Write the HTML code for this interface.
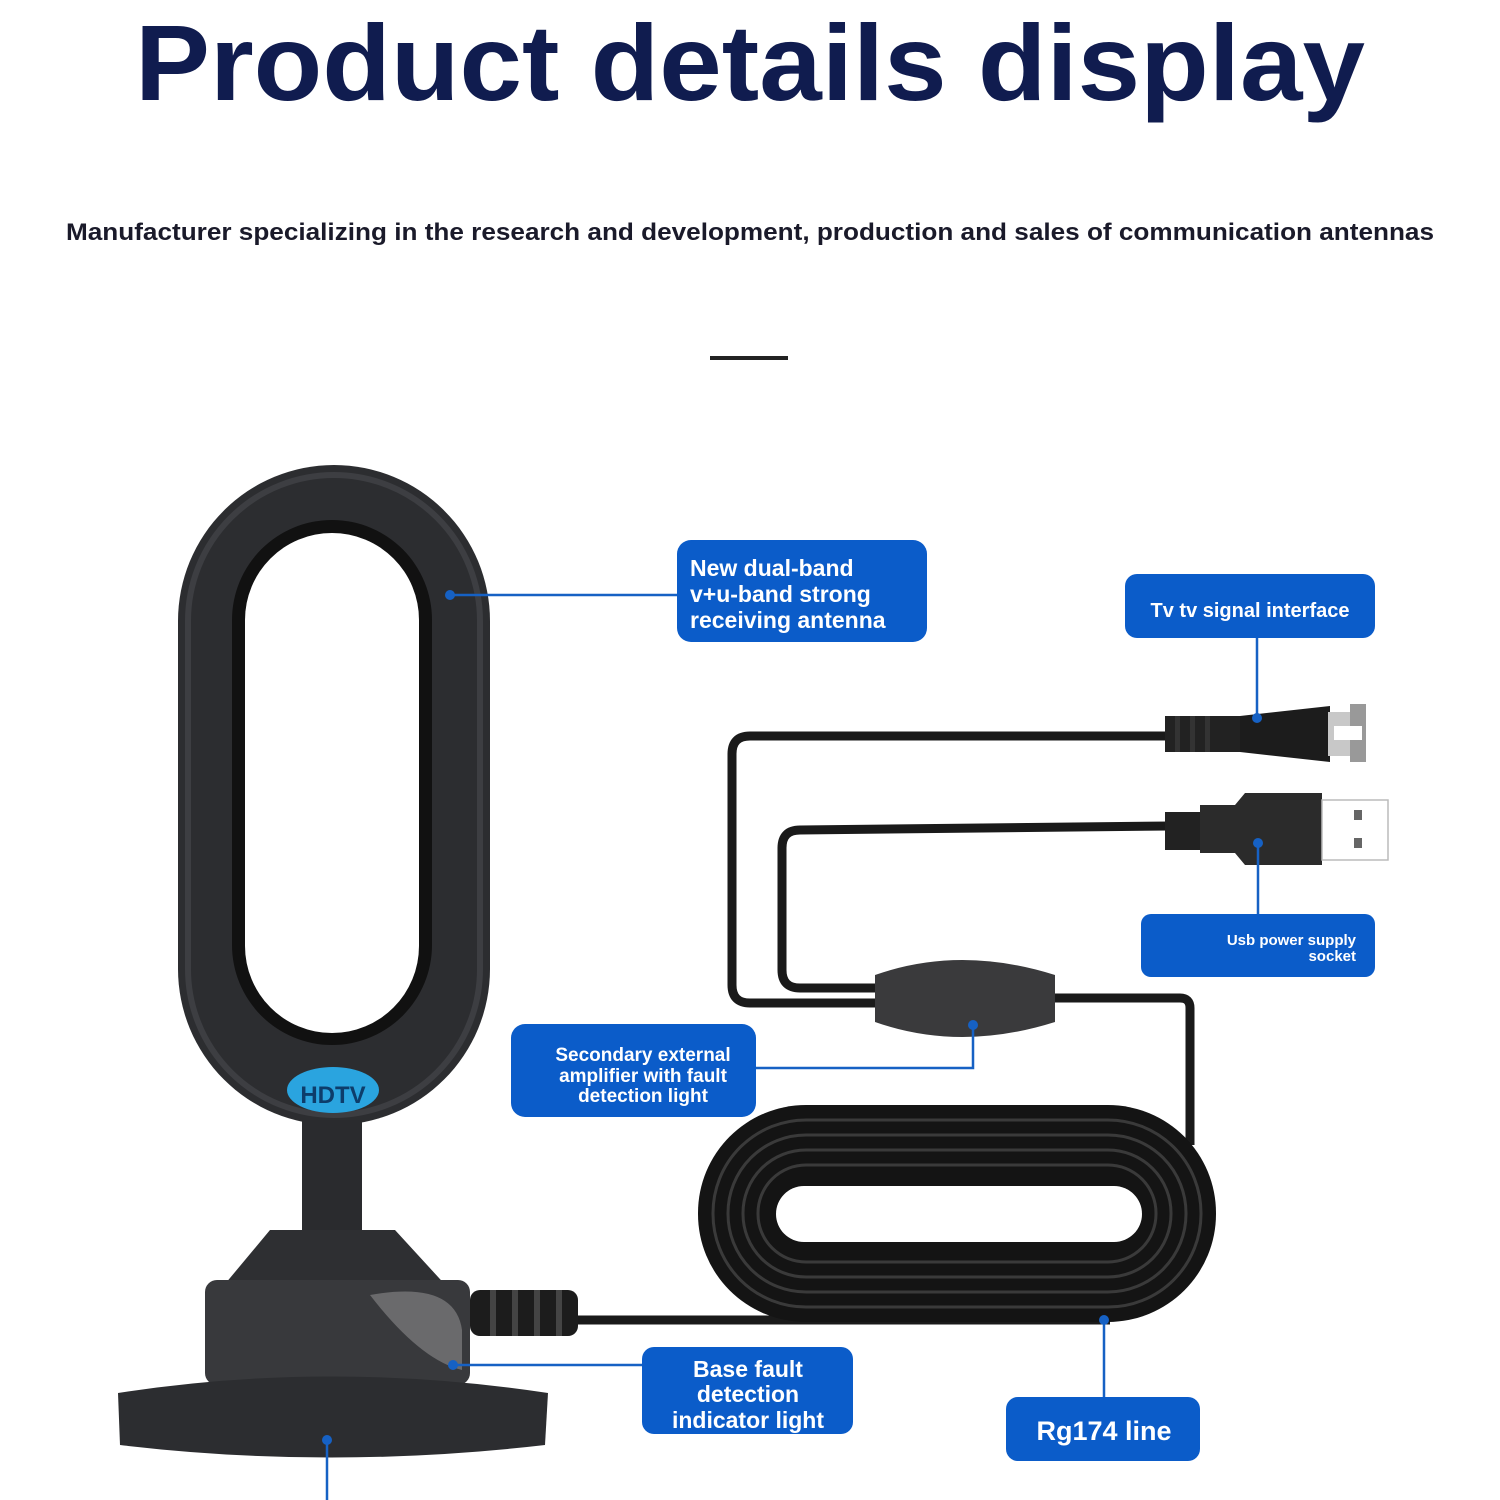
<!DOCTYPE html>
<html><head><meta charset="utf-8"><style>
html,body{margin:0;padding:0;background:#fff;}
svg{display:block;}
text{font-family:"Liberation Sans",sans-serif;font-weight:bold;}
</style></head><body>
<svg width="1500" height="1500" viewBox="0 0 1500 1500" xmlns="http://www.w3.org/2000/svg">
<rect width="1500" height="1500" fill="#fff"/>
<text x="750" y="100" text-anchor="middle" font-size="108" fill="#101c4f" textLength="1230" lengthAdjust="spacingAndGlyphs">Product details display</text>
<text x="750" y="240" text-anchor="middle" font-size="24" fill="#1a1a2a" textLength="1368" lengthAdjust="spacingAndGlyphs">Manufacturer specializing in the research and development, production and sales of communication antennas</text>
<rect x="710" y="356" width="78" height="4" fill="#222"/>

<!-- cables -->
<g fill="none" stroke="#1a1a1a" stroke-width="9" stroke-linejoin="round">
<path d="M1170 736 L750 736 Q732 736 732 754 L732 985 Q732 1003 750 1003 L880 1003"/>
<path d="M1170 826 L800 830 Q782 830 782 848 L782 970 Q782 988 800 988 L880 988"/>
<path d="M1050 998 L1180 998 Q1190 998 1190 1008 L1190 1145"/>
<path d="M575 1320 L1110 1320"/>
</g>
<!-- amplifier -->
<path d="M875 975 Q960 945 1055 975 L1055 1022 Q960 1052 875 1022 Z" fill="#3a3a3c"/>
<!-- coil -->
<rect x="698" y="1105" width="518" height="217" rx="108" fill="#141414"/>
<g fill="none" stroke="#3a3a3a" stroke-width="3">
<rect x="713" y="1120" width="488" height="187" rx="93"/>
<rect x="728" y="1135" width="458" height="157" rx="78"/>
<rect x="743" y="1150" width="428" height="127" rx="63"/>
<rect x="758" y="1165" width="398" height="97" rx="48"/>
</g>
<rect x="776" y="1186" width="366" height="56" rx="28" fill="#fff"/>

<!-- coax connector -->
<rect x="1165" y="716" width="90" height="36" fill="#222"/>
<path d="M1240 716 L1330 706 L1330 762 L1240 752 Z" fill="#1c1c1c"/>
<g fill="#333"><rect x="1175" y="716" width="5" height="36"/><rect x="1190" y="716" width="5" height="36"/><rect x="1205" y="716" width="5" height="36"/></g>
<rect x="1328" y="712" width="30" height="44" fill="#c8c8c8"/>
<rect x="1350" y="704" width="16" height="58" fill="#999"/>
<rect x="1334" y="726" width="28" height="14" fill="#fff"/>
<!-- usb -->
<rect x="1165" y="812" width="40" height="38" fill="#222"/>
<path d="M1200 805 L1235 805 L1245 793 L1322 793 L1322 865 L1245 865 L1235 853 L1200 853 Z" fill="#2b2b2b"/>
<rect x="1322" y="800" width="66" height="60" fill="#fff" stroke="#bbb" stroke-width="1.5"/>
<rect x="1354" y="810" width="8" height="10" fill="#666"/><rect x="1354" y="838" width="8" height="10" fill="#666"/>

<!-- antenna -->
<rect x="178" y="465" width="312" height="660" rx="156" fill="#2c2d30"/>
<rect x="188" y="475" width="292" height="640" rx="146" fill="none" stroke="#3d3e42" stroke-width="6"/>
<rect x="232" y="520" width="200" height="525" rx="100" fill="#111"/>
<rect x="245" y="533" width="174" height="500" rx="87" fill="#fff"/>
<ellipse cx="333" cy="1090" rx="46" ry="23" fill="#2aa4df"/>
<text x="333" y="1103" text-anchor="middle" font-size="24" fill="#0d3d6b">HDTV</text>
<rect x="302" y="1120" width="60" height="110" fill="#2a2b2e"/>
<path d="M270 1230 L395 1230 L450 1290 L220 1290 Z" fill="#2e2f32"/>
<rect x="205" y="1280" width="265" height="105" rx="12" fill="#38393c"/>
<path d="M370 1295 Q455 1280 462 1330 L462 1370 Q420 1360 370 1295 Z" fill="#6a6a6c"/>
<rect x="470" y="1290" width="108" height="46" rx="10" fill="#1c1c1c"/>
<g fill="#444"><rect x="490" y="1290" width="6" height="46"/><rect x="512" y="1290" width="6" height="46"/><rect x="534" y="1290" width="6" height="46"/><rect x="556" y="1290" width="6" height="46"/></g>
<path d="M118 1393 Q330 1360 548 1393 L545 1445 Q330 1470 120 1445 Z" fill="#2c2d30"/>

<!-- leader lines -->
<g stroke="#1661c4" stroke-width="2.5" fill="none">
<path d="M450 595 L677 595"/>
<path d="M1257 638 L1257 718"/>
<path d="M1258 843 L1258 914"/>
<path d="M756 1068 L973 1068 L973 1025"/>
<path d="M453 1365 L642 1365"/>
<path d="M1104 1320 L1104 1397"/>
<path d="M327 1440 L327 1500"/>
</g>
<g fill="#1661c4">
<circle cx="450" cy="595" r="5"/><circle cx="1257" cy="718" r="5"/><circle cx="1258" cy="843" r="5"/>
<circle cx="973" cy="1025" r="5"/><circle cx="453" cy="1365" r="5"/><circle cx="1104" cy="1320" r="5"/><circle cx="327" cy="1440" r="5"/>
</g>

<!-- boxes -->
<g fill="#0b5cc9">
<rect x="677" y="540" width="250" height="102" rx="14"/>
<rect x="1125" y="574" width="250" height="64" rx="12"/>
<rect x="1141" y="914" width="234" height="63" rx="10"/>
<rect x="511" y="1024" width="245" height="93" rx="14"/>
<rect x="642" y="1347" width="211" height="87" rx="12"/>
<rect x="1006" y="1397" width="194" height="64" rx="12"/>
</g>
<g fill="#fff">
<text x="690" y="576" font-size="23">New dual-band</text>
<text x="690" y="602" font-size="23">v+u-band strong</text>
<text x="690" y="628" font-size="23">receiving antenna</text>
<text x="1250" y="617" font-size="20" text-anchor="middle">Tv tv signal interface</text>
<text x="1356" y="945" font-size="15" text-anchor="end">Usb power supply</text>
<text x="1356" y="961" font-size="15" text-anchor="end">socket</text>
<text x="643" y="1061" font-size="19" text-anchor="middle">Secondary external</text>
<text x="643" y="1082" font-size="19" text-anchor="middle">amplifier with fault</text>
<text x="643" y="1102" font-size="19" text-anchor="middle">detection light</text>
<text x="748" y="1377" font-size="23" text-anchor="middle">Base fault</text>
<text x="748" y="1402" font-size="23" text-anchor="middle">detection</text>
<text x="748" y="1428" font-size="23" text-anchor="middle">indicator light</text>
<text x="1104" y="1440" font-size="27" text-anchor="middle">Rg174 line</text>
</g>
</svg>
</body></html>
